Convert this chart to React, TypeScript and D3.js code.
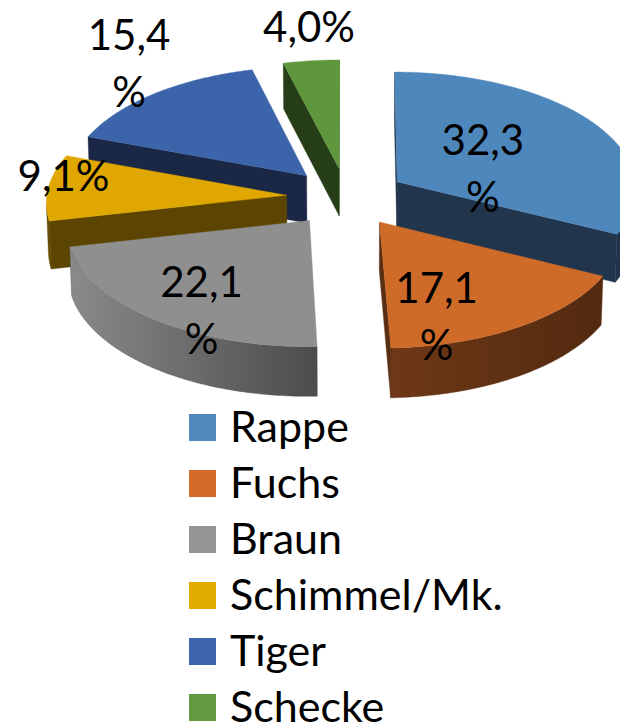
import React from "react";
import * as d3 from "d3";

// ---- data ----
const categories = ["Rappe", "Fuchs", "Braun", "Schimmel/Mk.", "Tiger", "Schecke"];
const values = [32.3, 17.1, 22.1, 9.1, 15.4, 4.0];
const wrapLabel = [true, true, true, false, true, false];

// ---- styles ----
const topColors = ["#4E87BB", "#CE6B28", "#8F8F8F", "#DFA700", "#3B64AA", "#5F973D"];
const cutColors = ["#21364D", "#5A2E12", "#7C7C7C", "#5C4500", "#1A2745", "#263E18"];
const sideLight = ["#2A4563", "#6E3816", "#8A8A8A", "#655000", "#1D2D50", "#2B4519"];
const sideDark = ["#1F3249", "#532A10", "#4C4C4C", "#5A4400", "#172442", "#233A15"];
const legendColors = ["#5189BF", "#D36C2A", "#959595", "#E2AB00", "#3C65AE", "#629B40"];
// label offsets (px) from the projected slice anchor
const labelOffsets: [number, number][] = [
  [-33, 9], [-25, 19], [-16, 18], [-80, 0], [-85, -76], [-13, -61],
];

const W = 620;
const H = 727;
const FONT = "Lato, 'Open Sans', sans-serif";

// ---- 3D projection ----
const CX = 346.5;
const CY = 197.2;
const F = 240;
const SIN_A = 0.4875;
const COS_A = Math.sqrt(1 - SIN_A * SIN_A);
const DIST = 16.96;
const DEPTH = 0.229;
const EXPLODE = 0.25;
const CAM = [0, DIST * SIN_A, -DIST * COS_A];

function project(X: number, Y: number, Z: number): [number, number] {
  const yp = Y * COS_A + Z * SIN_A;
  const zp = Z * COS_A - Y * SIN_A;
  const k = DIST / (DIST + zp);
  return [CX + F * X * k, CY - F * yp * k];
}

function facing(n: number[], p: number[]) {
  return n[0] * (CAM[0] - p[0]) + n[1] * (CAM[1] - p[1]) + n[2] * (CAM[2] - p[2]) > 0;
}

const line = d3.line();
const closed = (pts: [number, number][]) => (line(pts) || "") + "Z";

export default function App() {
  const arcs = d3.pie<number>().sort(null).value((d) => d)(values);

  const slices = arcs.map((a, i) => {
    const s = a.startAngle;
    const e = a.endAngle;
    const b = (s + e) / 2;
    const ox = EXPLODE * Math.sin(b);
    const oz = EXPLODE * Math.cos(b);
    const n = Math.max(8, Math.ceil((e - s) / 0.01));
    const angles = d3.range(n + 1).map((j) => s + ((e - s) * j) / n);
    const topPt = (t: number): [number, number] => project(ox + Math.sin(t), 0, oz + Math.cos(t));
    const botPt = (t: number): [number, number] => project(ox + Math.sin(t), -DEPTH, oz + Math.cos(t));
    const apexT = project(ox, 0, oz);
    const apexB = project(ox, -DEPTH, oz);

    const top = closed([apexT, ...angles.map(topPt)]);

    const walls: string[] = [];
    let run: number[] = [];
    const flush = () => {
      if (run.length > 1) {
        const pts = [...run.map(topPt), ...run.slice().reverse().map(botPt)];
        walls.push(closed(pts));
      }
      run = [];
    };
    for (let j = 0; j < n; j++) {
      const tm = (angles[j] + angles[j + 1]) / 2;
      const vis = facing([Math.sin(tm), 0, Math.cos(tm)], [ox + Math.sin(tm), 0, oz + Math.cos(tm)]);
      if (vis) {
        if (run.length === 0) run.push(angles[j]);
        run.push(angles[j + 1]);
      } else flush();
    }
    flush();
    const wallXs = walls.length ? angles.map((t) => topPt(t)[0]) : [0, 1];

    const cuts: string[] = [];
    const startN = [-Math.cos(s), 0, Math.sin(s)];
    const endN = [Math.cos(e), 0, -Math.sin(e)];
    if (facing(startN, [ox, 0, oz])) cuts.push(closed([apexT, topPt(s), botPt(s), apexB]));
    if (facing(endN, [ox, 0, oz])) cuts.push(closed([apexT, topPt(e), botPt(e), apexB]));

    const anc = project(0.85 * Math.sin(b), 0, 0.85 * Math.cos(b));
    const lx = anc[0] + labelOffsets[i][0];
    const ly = anc[1] + labelOffsets[i][1];
    const txt = values[i].toFixed(1).replace(".", ",");
    const lines = wrapLabel[i] ? [txt, "%"] : [txt + "%"];

    return {
      i, z: Math.cos(b), top, walls, cuts,
      gx1: d3.min(wallXs) as number, gx2: d3.max(wallXs) as number,
      lx, ly, lines,
    };
  });

  const order = slices.slice().sort((a, b) => b.z - a.z);

  const legendY = d3.scaleLinear().domain([0, 1]).range([414, 470]);

  return (
    <svg
      width={W}
      height={H}
      viewBox={`0 0 ${W} ${H}`}
      style={{ position: "absolute", left: 0, top: 0, background: "#fff" }}
    >
      <defs>
        {slices.map((sl) => (
          <linearGradient
            key={sl.i}
            id={`side${sl.i}`}
            gradientUnits="userSpaceOnUse"
            x1={sl.gx1}
            x2={sl.gx2}
            y1={0}
            y2={0}
          >
            <stop offset="0" stopColor={sideLight[sl.i]} />
            <stop offset="1" stopColor={sideDark[sl.i]} />
          </linearGradient>
        ))}
      </defs>
      <rect width={W} height={H} fill="#fff" />
      {order.map((sl) => (
        <g key={sl.i}>
          {sl.walls.map((d, k) => (
            <path key={"w" + k} d={d} fill={`url(#side${sl.i})`} stroke={sideDark[sl.i]} strokeWidth={0.4} />
          ))}
          {sl.cuts.map((d, k) => (
            <path key={"c" + k} d={d} fill={cutColors[sl.i]} stroke={cutColors[sl.i]} strokeWidth={0.4} />
          ))}
          <path d={sl.top} fill={topColors[sl.i]} stroke={topColors[sl.i]} strokeWidth={0.4} />
        </g>
      ))}
      {slices.map((sl) => (
        <text
          key={"l" + sl.i}
          x={sl.lx}
          y={sl.ly}
          textAnchor="middle"
          fontFamily={FONT}
          fontSize={42}
          fill="#000"
        >
          {sl.lines.map((t, k) => (
            <tspan key={k} x={sl.lx} dy={k === 0 ? 0 : 57}>
              {t}
            </tspan>
          ))}
        </text>
      ))}
      {categories.map((c, i) => (
        <g key={c} transform={`translate(189,${legendY(i)})`}>
          <rect width={27} height={27} fill={legendColors[i]} />
          <text x={41} y={28} fontFamily={FONT} fontSize={43} fill="#000">
            {c}
          </text>
        </g>
      ))}
    </svg>
  );
}
